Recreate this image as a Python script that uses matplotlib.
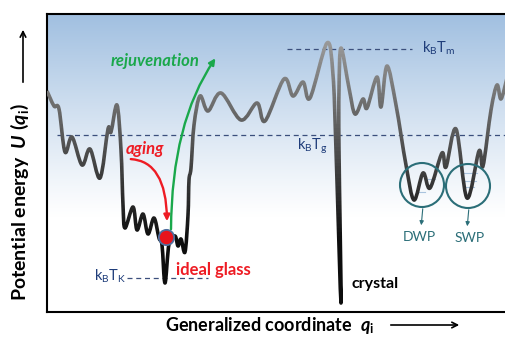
import numpy as np
import matplotlib.pyplot as plt
from matplotlib.path import Path
from matplotlib.patches import PathPatch, Rectangle, Circle, FancyArrowPatch

plt.rcParams['font.family'] = ['Lato', 'DejaVu Sans']
plt.rcParams['mathtext.fontset'] = 'custom'
plt.rcParams['mathtext.rm'] = 'Lato'
plt.rcParams['mathtext.it'] = 'Lato:italic'
plt.rcParams['mathtext.bf'] = 'Lato:bold'
plt.rcParams['mathtext.bfit'] = 'Lato:bold:italic'

# energy landscape: generalized coordinate vs potential energy (peaks / minima)
q = [47, 54, 59, 65, 72, 82, 90, 100, 108, 111, 117, 121, 123, 125, 133, 137, 143, 148,
     154, 159, 162, 165, 169, 175, 178, 181, 185, 188, 189, 191, 194, 200, 208, 221, 241,
     257, 265, 284, 293, 303, 310, 327, 333, 336, 341, 339, 339, 341, 349, 355, 363, 367,
     377, 381, 387, 396, 406, 414, 423, 430, 442, 446, 456, 467, 479, 483, 491, 497, 501, 507]
U = [221, 206, 203, 160, 175, 147, 163, 134, 183, 180, 207, 162, 107, 84, 105, 82, 98, 78,
     94, 74, 67, 29, 68, 76, 66, 73, 60, 97, 132, 144, 187, 216, 201, 219, 192,
     209, 191, 233, 216, 230, 214, 269, 237, 162, 9, 162, 222, 264, 224, 198, 213, 204,
     235, 205, 246, 207, 147, 112, 139, 124, 159, 145, 183, 114, 161, 146, 202, 227, 213, 234]

# reference energy levels
U_Tm, U_Tg, U_TK = 263, 177, 34
# glass state marker
glass_q, glass_U = 166, 75
# two-level system wells
dwp_q, dwp_U = 422, 127
swp_q, swp_U = 468, 126
well_r = 22
dwp_levels = [(418, 425, 120), (428, 435, 133)]
swp_levels = [(463, 477, 139), (464, 476, 131), (465, 474, 125)]

W, H = 506, 338
fig = plt.figure(figsize=(W / 100, H / 100), dpi=100)
ax = fig.add_axes([47 / W, 1 - 312 / H, (W - 47) / W, 298 / H])
ax.set_xlim(47, 506)
ax.set_ylim(0, 298)
ax.set_xticks([])
ax.set_yticks([])
for s in ax.spines.values():
    s.set_linewidth(1.5)
ax.spines['right'].set_visible(False)

# blue haze fading to white
yy = np.linspace(0, 298, 300)
t = np.clip((yy - 95) / (298 - 95), 0, 1) ** 1.1
top = np.array([0.63, 0.75, 0.88])
grad = (1 - t)[:, None] * np.ones(3) + t[:, None] * top
ax.imshow(grad[:, None, :], extent=[47, 506, 0, 298], origin='lower', aspect='auto', zorder=0)


def smooth_path(xs, ys):
    P = np.column_stack([xs, ys]).astype(float)
    P = np.vstack([P[0], P, P[-1]])
    verts = [P[1]]
    codes = [Path.MOVETO]
    for i in range(1, len(P) - 2):
        p0, p1, p2, p3 = P[i - 1], P[i], P[i + 1], P[i + 2]
        verts += [p1 + (p2 - p0) / 6, p2 - (p3 - p1) / 6, p2]
        codes += [Path.CURVE4] * 3
    return Path(verts, codes)


path = smooth_path(q, U)
# stroke gets darker towards the bottom
edges = np.linspace(-5, 300, 80)
for lo, hi in zip(edges[:-1], edges[1:]):
    g = np.interp((lo + hi) / 2, [70, 270], [0.05, 0.6])
    pp = PathPatch(path, fill=False, ec=(g, g, g), lw=2.6, capstyle='butt', joinstyle='round', zorder=3)
    ax.add_patch(pp)
    pp.set_clip_path(Rectangle((47, lo), 459, hi - lo, transform=ax.transData))

dash = dict(color='#3b4f7c', lw=0.9, dashes=(4, 3), zorder=2)
ax.plot([287, 412], [U_Tm, U_Tm], **dash)
ax.plot([57, 506], [U_Tg, U_Tg], **dash)
ax.plot([127, 208], [U_TK, U_TK], **dash)
navy = '#1f3d7a'
ax.text(422, U_Tm + 1, r'$\mathregular{k_BT_m}$', color=navy, fontsize=10.5, va='center')
ax.text(297, U_Tg - 11, r'$\mathregular{k_BT_g}$', color=navy, fontsize=10.5, va='center')
ax.text(94, U_TK + 2, r'$\mathregular{k_BT_K}$', color=navy, fontsize=10.5, va='center')

# aging / rejuvenation arrows
ax.add_patch(FancyArrowPatch((128, 153), (167, 88), connectionstyle='angle3,angleA=0,angleB=90',
                             arrowstyle='-|>', mutation_scale=9, color='#ee1c24', lw=1.7, zorder=4))
ax.add_patch(FancyArrowPatch((171, 80), (217, 256), connectionstyle='angle3,angleA=90,angleB=55',
                             arrowstyle='-|>', mutation_scale=9, color='#1aa84b', lw=1.7, zorder=4))
ax.text(145, 163, 'aging', color='#ee1c24', fontsize=12, fontweight='bold', style='italic',
        ha='center', va='center')
ax.text(155, 251, 'rejuvenation', color='#1aa84b', fontsize=12, fontweight='bold', style='italic',
        ha='center', va='center')
ax.plot(glass_q, glass_U, 'o', ms=11, mfc='#e8141c', mec='#4f6f9f', mew=1.3, zorder=5)
ax.text(176, 42, 'ideal glass', color='#ee1c24', fontsize=12, fontweight='bold', va='center')
ax.text(351, 28, 'crystal', color='black', fontsize=11.5, fontweight='bold', va='center')

teal = '#2b6e78'
for cq, cU, lab in [(dwp_q, dwp_U, 'DWP'), (swp_q, swp_U, 'SWP')]:
    ax.add_patch(Circle((cq, cU), well_r, fill=False, ec=teal, lw=1.5, zorder=4))
    ax.add_patch(FancyArrowPatch((cq + 1, cU - well_r + 1), (cq - 1, cU - well_r - 21),
                                 arrowstyle='-|>', mutation_scale=6, color=teal, lw=0.8, zorder=4))
    ax.text(cq - 3 if lab == 'DWP' else cq + 2, cU - 52, lab, color=teal, fontsize=10,
            ha='center', va='center')
for x0, x1, lev in dwp_levels + swp_levels:
    ax.plot([x0, x1], [lev, lev], color='#a9c3de', lw=0.8, zorder=2)

# axis titles with arrows
fig.text(270 / W, 1 - 325 / H, r'Generalized coordinate  $\mathbfit{q}_\mathbf{i}$', fontsize=13,
         fontweight='bold', ha='center', va='center')
fig.text(20 / W, 1 - 202 / H, r'Potential energy  $\mathbfit{U}\ \mathbf{(}\mathbfit{q}_\mathbf{i}\mathbf{)}$',
         fontsize=14, fontweight='bold', rotation=90, ha='center', va='center')
fig.add_artist(FancyArrowPatch((388 / W, 1 - 325 / H), (462 / W, 1 - 325 / H), transform=fig.transFigure,
                               arrowstyle='->', mutation_scale=10, color='black', lw=1.2))
fig.add_artist(FancyArrowPatch((23 / W, 1 - 85 / H), (23 / W, 1 - 27 / H), transform=fig.transFigure,
                               arrowstyle='->', mutation_scale=10, color='black', lw=1.2))

fig.savefig('out.png', dpi=100)
